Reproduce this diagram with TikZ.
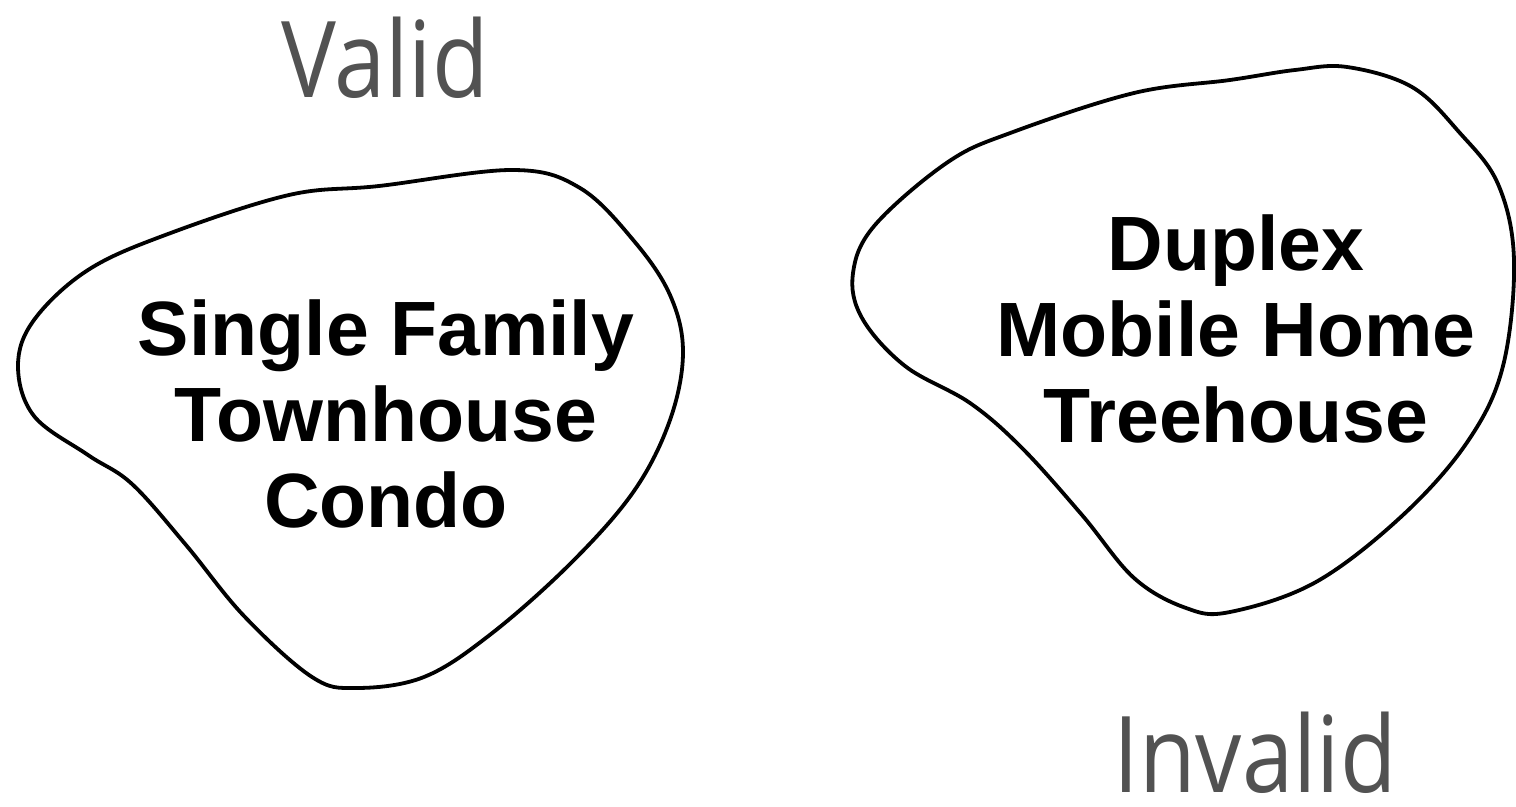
\documentclass[tikz,border=0pt]{standalone}
\usepackage{fontspec}
\setmainfont{Liberation Sans}
\newfontfamily\handfont[FakeStretch=0.87]{Open Sans}
\begin{document}
\begin{tikzpicture}[x=0.5pt,y=-0.5pt,
  blob/.style={draw=black,line width=1.9pt,smooth cycle,tension=0.6},
  items/.style={font=\fontsize{38.5}{43}\selectfont\bfseries,align=center,inner sep=0pt},
  verdict/.style={font=\fontsize{53}{60}\selectfont\handfont,text=black!68,inner sep=0pt,anchor=base}]
\useasboundingbox (0,0) rectangle (1516,807);
% left blob (valid)
\draw[blob] plot coordinates {
 (513,170) (580,188) (634,241) (670,295) (683,352) (670,420) (634,491)
 (571,563) (491,634) (424,677) (356,688) (312,677) (244,616) (186,545)
 (132,484) (88,455) (34,416) (18,366) (34,320) (88,270) (168,234)
 (289,195) (379,186)};
% right blob (invalid)
\draw[blob] plot coordinates {
 (1347,67) (1412,87) (1459,132) (1498,184) (1514,260) (1503,366)
 (1468,441) (1403,515) (1316,582) (1230,612) (1186,608) (1134,578)
 (1082,515) (1022,448) (970,403) (905,366) (862,318) (853,273)
 (875,225) (948,162) (1013,132) (1134,93) (1230,80) (1295,70)};
\node[items] (validitems) at (386,413.5) {Single Family\\Townhouse\\Condo};
\node[items] (invaliditems) at (1236,329) {Duplex\\Mobile Home\\Treehouse};
\node[verdict] (valid) at (385,98) {Valid};
\node[verdict] (invalid) at (1255,792) {Invalid};
\end{tikzpicture}
\end{document}
